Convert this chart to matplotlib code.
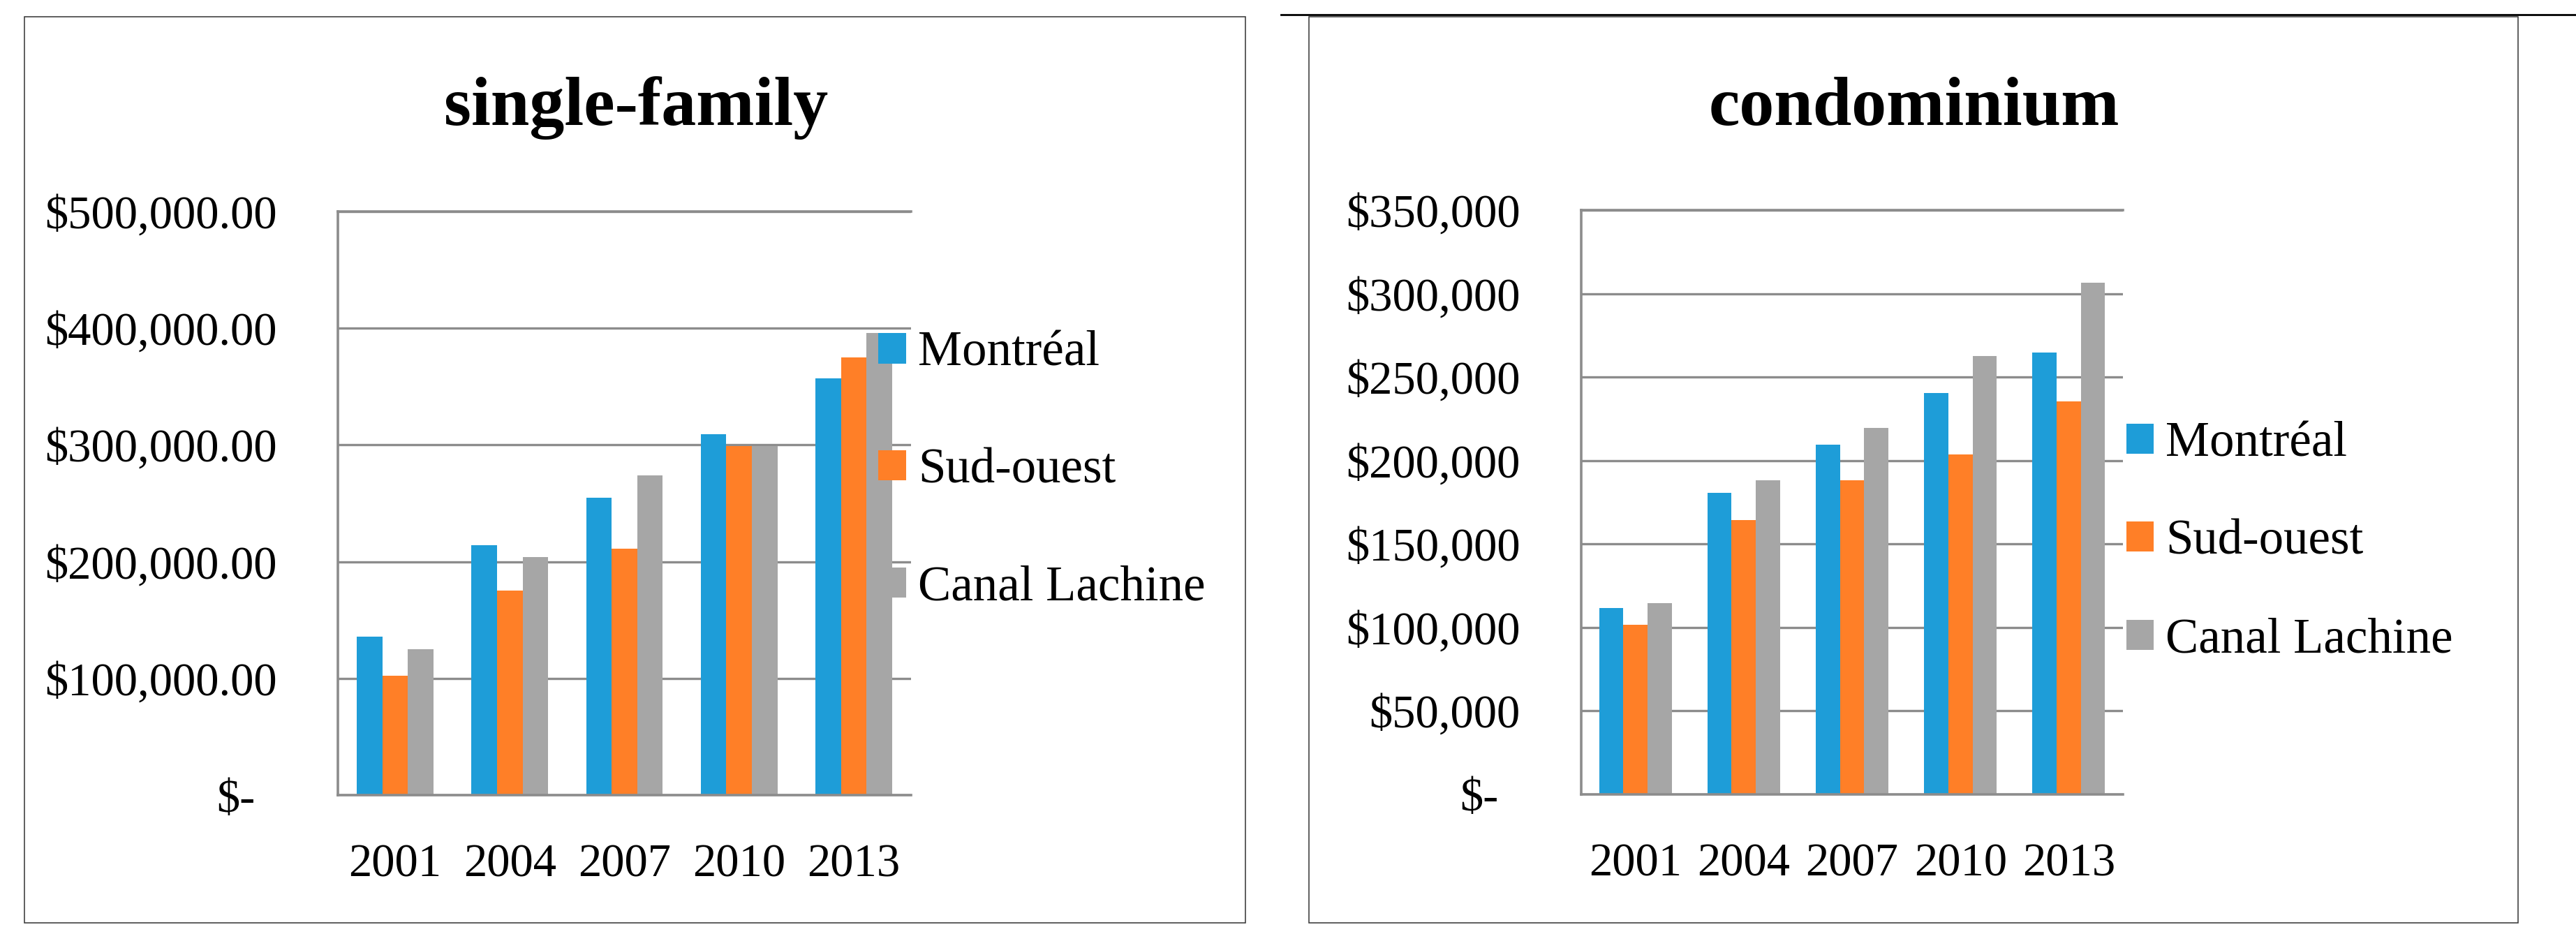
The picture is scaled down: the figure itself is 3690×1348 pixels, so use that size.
import numpy as np
import matplotlib
matplotlib.use('Agg')
import matplotlib.pyplot as plt
import matplotlib.transforms as mtransforms
from matplotlib.patches import Rectangle
from matplotlib.lines import Line2D

plt.rcParams['font.family'] = ['Liberation Serif', 'DejaVu Serif']

# data
years = ['2001', '2004', '2007', '2010', '2013']
series_names = ['Montréal', 'Sud-ouest', 'Canal Lachine']
colors = ['#1E9DD8', '#FF7F27', '#A6A6A6']

single_montreal = [136000, 214000, 255000, 309000, 357000]
single_sud_ouest = [102000, 175000, 211000, 299000, 375000]
single_canal = [125000, 204000, 274000, 299000, 396000]

condo_montreal = [111500, 180500, 209500, 240500, 264500]
condo_sud_ouest = [101500, 164500, 188000, 203500, 235500]
condo_canal = [114500, 188000, 219500, 262500, 306500]

single_ticks = [0, 100000, 200000, 300000, 400000, 500000]
single_tick_labels = ['$-', '$100,000.00', '$200,000.00', '$300,000.00',
                      '$400,000.00', '$500,000.00']
condo_ticks = [0, 50000, 100000, 150000, 200000, 250000, 300000, 350000]
condo_tick_labels = ['$-', '$50,000', '$100,000', '$150,000', '$200,000',
                     '$250,000', '$300,000', '$350,000']

W, H = 3690, 1348
GRID = '#8C8C8C'
FS = 48
LEG_FS = 51


def px_rect(x0, y0, x1, y1):
    # pixel box (top-left origin) -> figure fraction rect
    return [x0 / W, 1 - y1 / H, (x1 - x0) / W, (y1 - y0) / H]


def draw_panel(ax, values, ticks, tick_labels, anchor, spacing):
    x = np.arange(len(years))
    w = 0.223
    for i, (vals, name, c) in enumerate(zip(values, series_names, colors)):
        ax.bar(x + (i - 1) * w, vals, w, color=c, label=name, zorder=2)

    ax.set_xlim(-0.5, len(years) - 0.5)
    ax.set_ylim(0, ticks[-1])
    ax.set_yticks(ticks, tick_labels)
    ax.set_xticks(x, years)
    ax.grid(axis='y', color=GRID, lw=2.4, zorder=0)
    ax.set_axisbelow(True)

    ax.spines['right'].set_visible(False)
    for s in ['left', 'bottom', 'top']:
        ax.spines[s].set_color(GRID)
        ax.spines[s].set_linewidth(2.6)

    ax.tick_params(axis='y', length=0, labelsize=FS, pad=63)
    ax.tick_params(axis='x', length=0, labelsize=FS, pad=50)

    # "$-" sits a bit left of the other labels (accounting format)
    zero_lbl = ax.yaxis.get_major_ticks()[0].label1
    zero_lbl.set_transform(zero_lbl.get_transform() +
                           mtransforms.ScaledTranslation(-0.31, 0, fig.dpi_scale_trans))

    ax.legend(loc='center left', bbox_to_anchor=anchor, frameon=False,
              fontsize=LEG_FS, handlelength=0.56, handleheight=0.56,
              handletextpad=0.24, labelspacing=spacing,
              borderpad=0, borderaxespad=0)


fig = plt.figure(figsize=(W / 100, H / 100), dpi=100)

ax1 = fig.add_axes(px_rect(484, 303, 1305, 1139))
draw_panel(ax1, [single_montreal, single_sud_ouest, single_canal],
           single_ticks, single_tick_labels, (0.943, 0.556), 1.45)

ax2 = fig.add_axes(px_rect(2265, 301, 3041, 1138))
draw_panel(ax2, [condo_montreal, condo_sud_ouest, condo_canal],
           condo_ticks, condo_tick_labels, (1.006, 0.432), 1.07)

fig.text(911 / W, 1 - 155 / H, 'single-family', fontsize=72,
         fontweight='bold', ha='center', va='center')
fig.text(2742 / W, 1 - 155 / H, 'condominium', fontsize=72,
         fontweight='bold', ha='center', va='center')

# panel frames
for box in [(35, 24, 1784, 1322), (1875, 24, 3607, 1322)]:
    r = px_rect(*box)
    fig.add_artist(Rectangle((r[0], r[1]), r[2], r[3], transform=fig.transFigure,
                             fill=False, edgecolor='#333333', lw=1.1))
fig.add_artist(Line2D([1835 / W, 1.0], [1 - 21 / H, 1 - 21 / H],
                      transform=fig.transFigure, color='black', lw=2.0))

fig.savefig('out.png', dpi=100, facecolor='white')
